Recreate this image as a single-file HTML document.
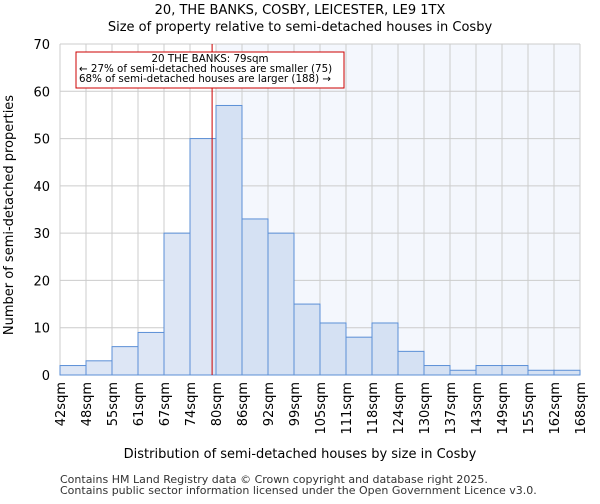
<!DOCTYPE html>
<html><head><meta charset="utf-8"><style>
body{margin:0;background:#fff;font-family:"DejaVu Sans","Liberation Sans",sans-serif}
</style></head><body>
<svg id="c" width="600" height="500" xmlns="http://www.w3.org/2000/svg" font-family="DejaVu Sans, Liberation Sans, sans-serif">
<text x="300" y="14" text-anchor="middle" font-size="13">20, THE BANKS, COSBY, LEICESTER, LE9 1TX</text>
<text x="300" y="31" text-anchor="middle" font-size="13">Size of property relative to semi-detached houses in Cosby</text>
<g id="plot"></g>
<text x="300" y="458" text-anchor="middle" font-size="13">Distribution of semi-detached houses by size in Cosby</text>
<text transform="translate(13,215) rotate(-90)" text-anchor="middle" font-size="13">Number of semi-detached properties</text>
<text x="60" y="483" font-size="11" fill="#333">Contains HM Land Registry data © Crown copyright and database right 2025.</text>
<text x="60" y="494" font-size="11" fill="#333">Contains public sector information licensed under the Open Government Licence v3.0.</text>
</svg>
<script>
const tickLabels=["42sqm","48sqm","55sqm","61sqm","67sqm","74sqm","80sqm","86sqm","92sqm","99sqm","105sqm","111sqm","118sqm","124sqm","130sqm","137sqm","143sqm","149sqm","155sqm","162sqm","168sqm"];
const counts=[2,3,6,9,30,50,57,33,30,15,11,8,11,5,2,1,2,2,1,1];
const yTicks=[0,10,20,30,40,50,60,70];
const propertyBin=5.85;
const NS="http://www.w3.org/2000/svg";
const L=60,R=580,T=44,B=375,yMax=70;
const bw=(R-L)/counts.length;
const x=i=>L+i*bw, y=v=>B-(v/yMax)*(B-T);
const g=document.getElementById('plot');
function mk(t,a,p){const e=document.createElementNS(NS,t);for(const k in a)e.setAttribute(k,a[k]);(p||g).appendChild(e);return e;}
const sh=mk('rect',{x:x(Math.ceil(propertyBin)),y:T,width:R-x(Math.ceil(propertyBin)),height:B-T,fill:'#f4f7fd'});


yTicks.forEach(v=>{
 const l=mk('line',{x1:L,x2:R,y1:y(v),y2:y(v),stroke:'#cccccc','stroke-width':1});
 
 
 const t=mk('text',{x:L-10,y:y(v)+5,'text-anchor':'end','font-size':13});
 t.textContent=v;
 
 
});
tickLabels.forEach((s,i)=>{
 const l=mk('line',{x1:x(i),x2:x(i),y1:T,y2:B,stroke:'#cccccc','stroke-width':1});
 
 
 const t=mk('text',{transform:`translate(${x(i)+5},382) rotate(-90)`,'text-anchor':'end','font-size':13});
 t.textContent=s;
 
 
});
counts.forEach((c,i)=>{
 const r=mk('rect',{x:x(i),y:y(c),width:bw,height:B-y(c),fill:i>=Math.ceil(propertyBin)?'#d5e1f3':'#dde6f5',stroke:'#5b8fd6','stroke-width':1});
 
 
});
const px=x(propertyBin);
const pl=mk('line',{x1:px,x2:px,y1:T,y2:B,stroke:'#cc0000','stroke-width':1});


const bx=mk('rect',{x:76,y:52,width:268,height:36,fill:'#fff',stroke:'#cc0000','stroke-width':1});


["20 THE BANKS: 79sqm","← 27% of semi-detached houses are smaller (75)","68% of semi-detached houses are larger (188) →"].forEach((s,i)=>{
 const t=mk('text',{x:i==0?210:79,y:62+i*10,'text-anchor':i==0?'middle':'start','font-size':10.3});
 t.textContent=s;
 
 
});
</script>
</body></html>
